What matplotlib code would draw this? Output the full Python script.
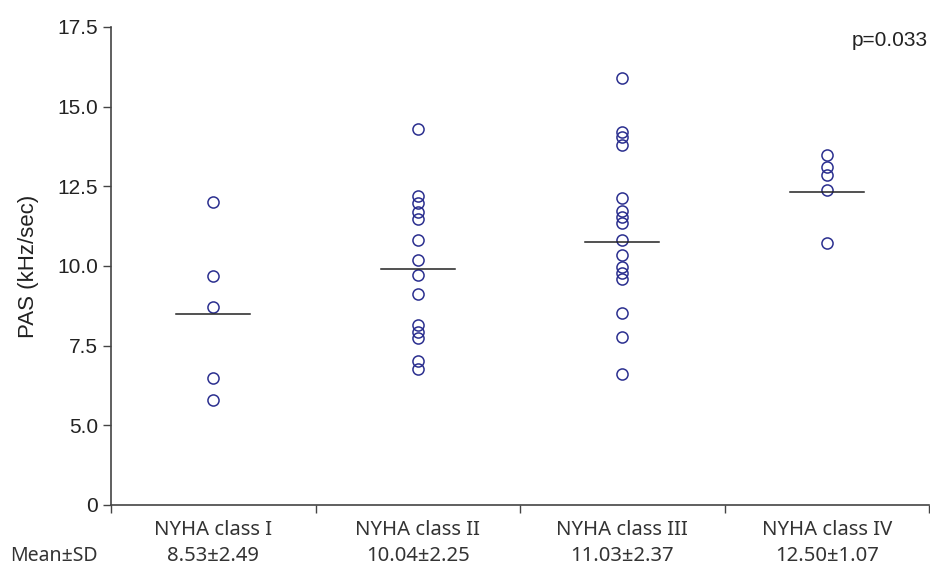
import numpy as np
import matplotlib
matplotlib.use("Agg")
import matplotlib.pyplot as plt
from matplotlib.transforms import blended_transform_factory

# values (kHz/sec)
classes = ["NYHA class I", "NYHA class II", "NYHA class III", "NYHA class IV"]
mean_sd = ["8.53\u00b12.49", "10.04\u00b12.25", "11.03\u00b12.37", "12.50\u00b11.07"]
class_1 = [12.02, 9.68, 8.72, 6.48, 5.81]
class_2 = [14.31, 12.21, 11.97, 11.69, 11.49, 10.81, 10.18, 9.72, 9.13,
           8.15, 7.94, 7.75, 7.03, 6.78]
class_3 = [15.91, 14.21, 14.05, 13.81, 12.13, 11.73, 11.53, 11.34, 10.81,
           10.35, 9.98, 9.79, 9.60, 8.53, 7.78, 6.61]
class_4 = [13.48, 13.12, 12.86, 12.38, 10.72]
center_lines = [8.50, 9.90, 10.74, 12.33]
groups = [class_1, class_2, class_3, class_4]

y_ticks = [5.0, 7.5, 10.0, 12.5, 15.0, 17.5]

W, H = 930, 565
fig = plt.figure(figsize=(W / 100, H / 100), dpi=100)
ax = fig.add_axes([111 / W, 1 - 505 / H, 818 / W, 478 / H])

dot_color = "#2B2F8F"
for i, vals in enumerate(groups):
    x = np.full(len(vals), i + 0.5)
    ax.plot(x, vals, "o", ms=8, mfc="none", mec=dot_color, mew=1.1)
    ax.plot([i + 0.5 - 0.18, i + 0.5 + 0.18], [center_lines[i]] * 2,
            color="#222222", lw=1.1)

# axis is broken: the bottom tick stands for 0
ax.set_ylim(2.5, 17.5)
ax.set_yticks([2.5] + y_ticks)
ax.set_yticklabels(["0"] + ["%.1f" % t for t in y_ticks],
                   fontfamily="Liberation Sans", fontsize=15)
ax.set_xlim(0, 4)
ax.set_xticks([0, 1, 2, 3, 4])
ax.set_xticklabels([])
ax.tick_params(axis="x", length=6, width=1, color="#444444")
ax.tick_params(axis="y", length=6, width=1, color="#444444", pad=3.5,
               labelcolor="#222222")

for s in ["top", "right"]:
    ax.spines[s].set_visible(False)
for s in ["left", "bottom"]:
    ax.spines[s].set_color("#444444")
    ax.spines[s].set_linewidth(1.2)

ax.set_ylabel("PAS (kHz/sec)", fontfamily="Liberation Sans", fontsize=16,
              color="#222222", labelpad=13)

trans = blended_transform_factory(ax.transData, fig.transFigure)
for i in range(len(classes)):
    ax.text(i + 0.5, 1 - 535 / H, classes[i], transform=trans,
            ha="center", va="baseline", fontfamily="Noto Sans", fontsize=14.6,
            color="#333333")
    ax.text(i + 0.5, 1 - 561 / H, mean_sd[i], transform=trans,
            ha="center", va="baseline", fontfamily="Noto Sans", fontsize=14.6,
            color="#333333")
fig.text(10 / W, 1 - 561 / H, "Mean\u00b1SD", ha="left", va="baseline",
         fontfamily="Noto Sans", fontsize=14, color="#333333")

fig.text(928 / W, 1 - 46 / H, "p=0.033", ha="right", va="baseline",
         fontfamily="Liberation Sans", fontsize=15, color="#222222")

fig.savefig("out.png", dpi=100)
